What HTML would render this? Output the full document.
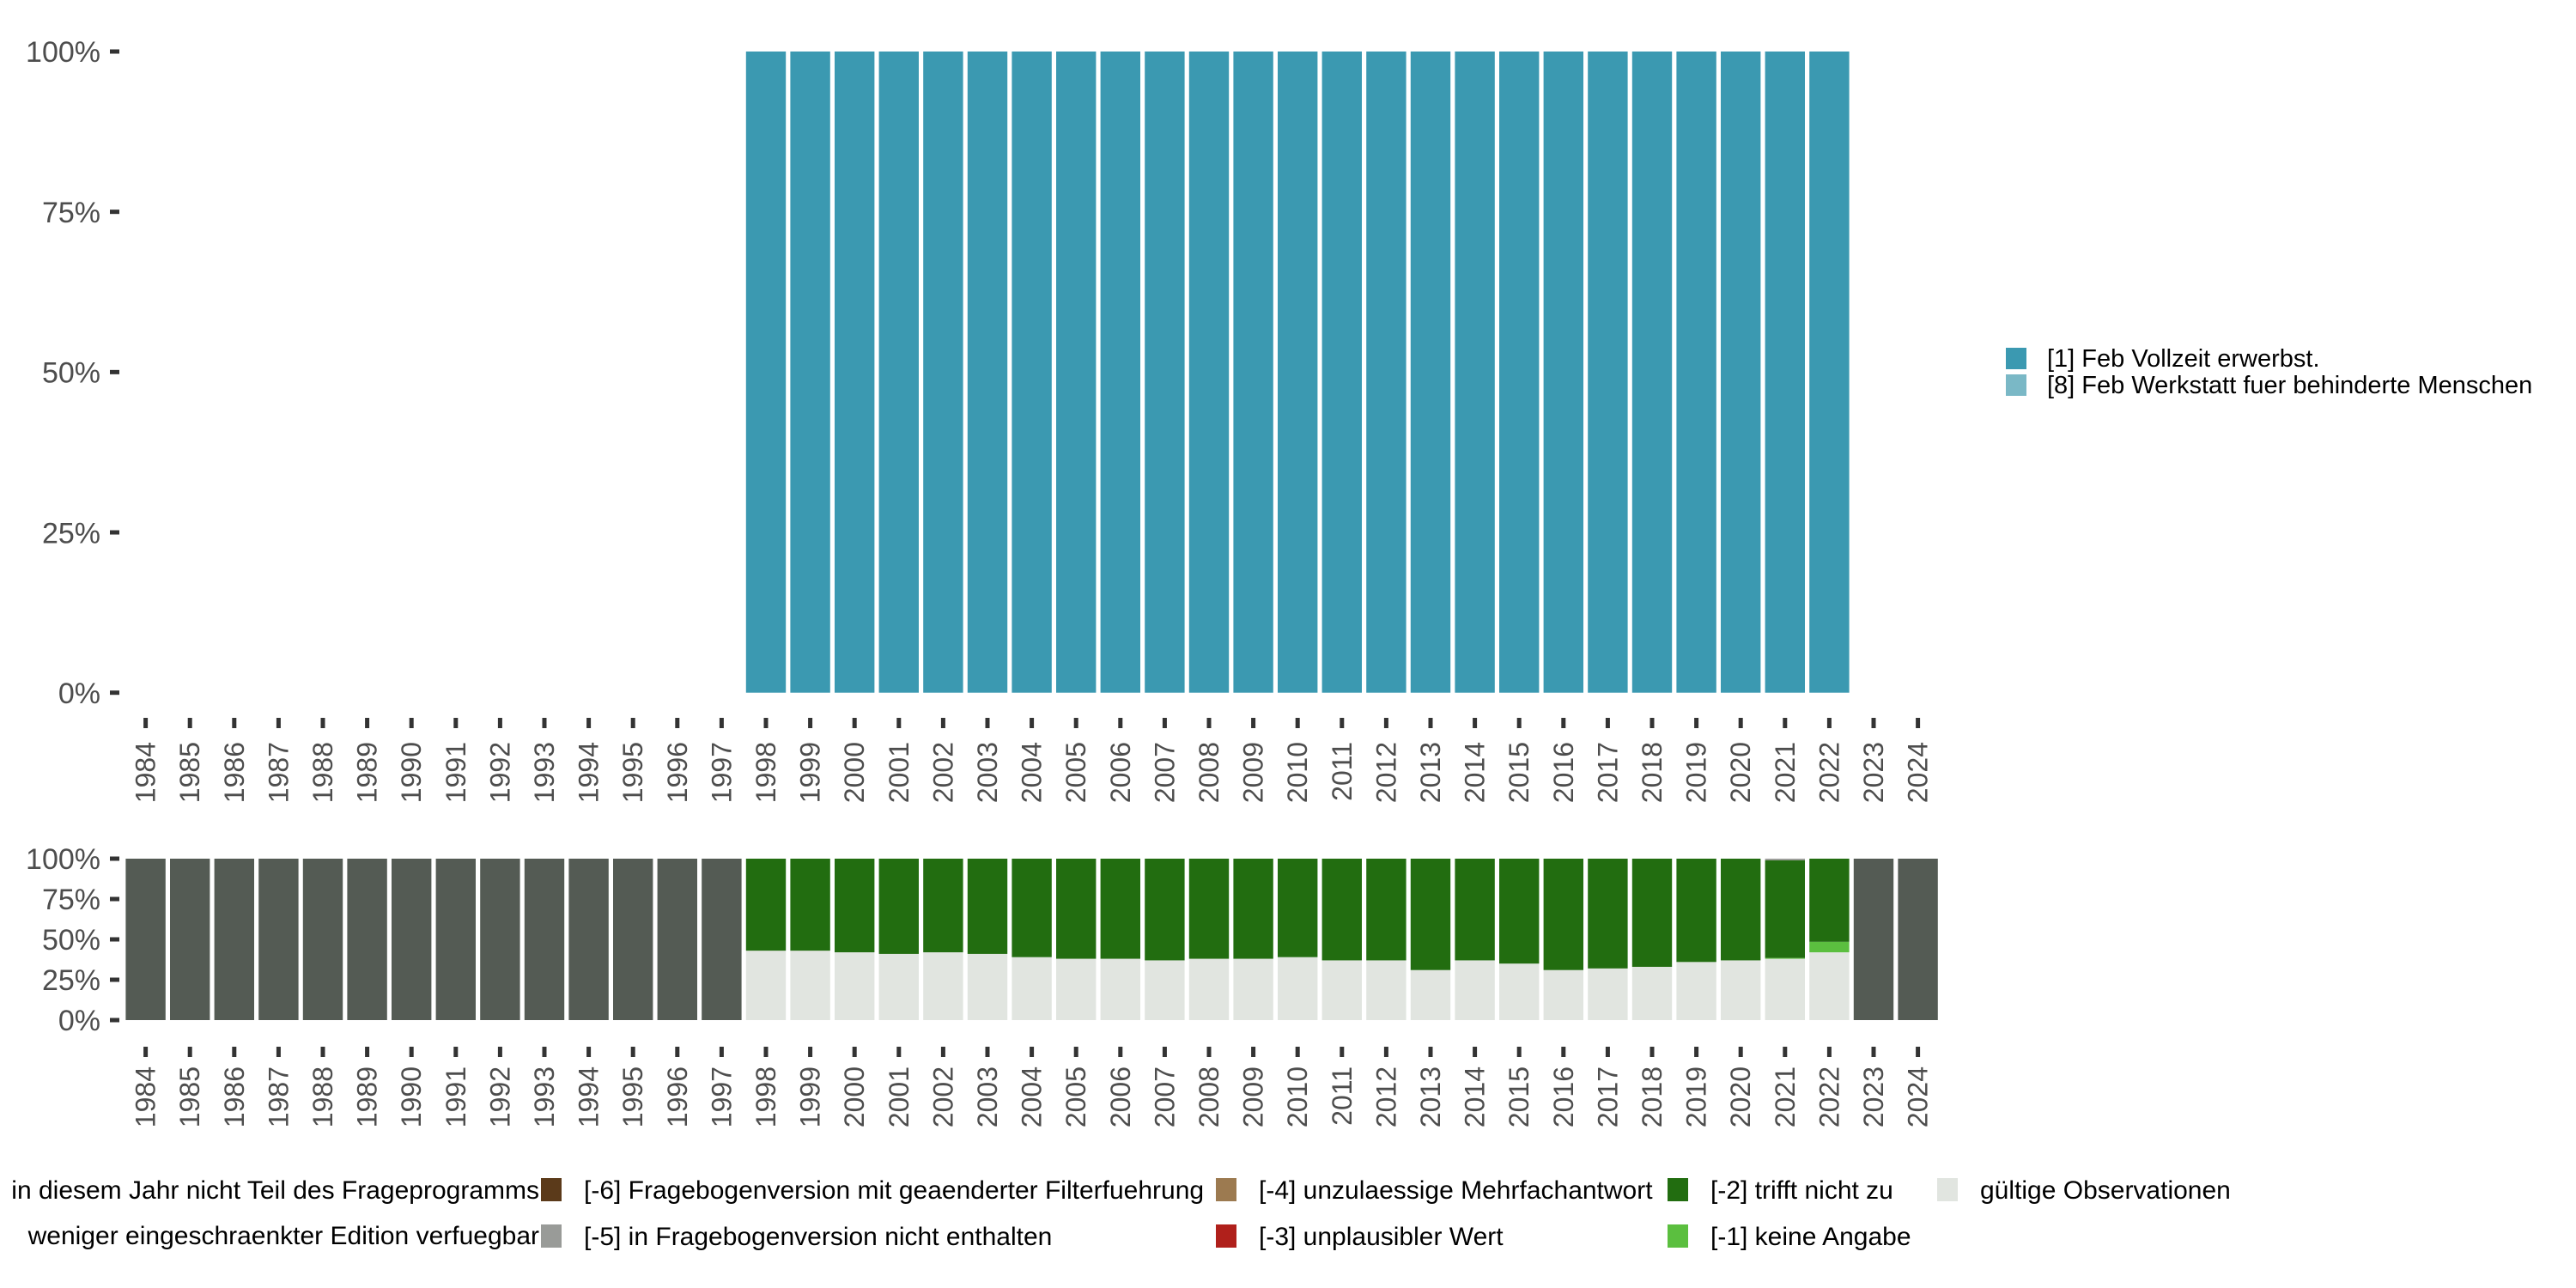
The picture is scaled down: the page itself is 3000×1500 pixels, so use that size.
<!DOCTYPE html>
<html><head><meta charset="utf-8"><style>
html,body{margin:0;padding:0;background:#fff;}
svg{display:block;font-family:"Liberation Sans",sans-serif;}
</style></head><body>
<svg id="chart" width="3000" height="1500" viewBox="0 0 3000 1500" xmlns="http://www.w3.org/2000/svg">
<g id="topPanel"></g>
<g id="botPanel"></g>
<g id="legR"></g>
<g id="legB"></g>
</svg>
<script>
const years = [1984,1985,1986,1987,1988,1989,1990,1991,1992,1993,1994,1995,1996,1997,1998,1999,2000,2001,2002,2003,2004,2005,2006,2007,2008,2009,2010,2011,2012,2013,2014,2015,2016,2017,2018,2019,2020,2021,2022,2023,2024];
const topYears = [1998,1999,2000,2001,2002,2003,2004,2005,2006,2007,2008,2009,2010,2011,2012,2013,2014,2015,2016,2017,2018,2019,2020,2021,2022];
const vollzeit = [100,100,100,100,100,100,100,100,100,100,100,100,100,100,100,100,100,100,100,100,100,100,100,100,100];
const werkstatt = [0,0,0,0,0,0,0,0,0,0,0,0,0,0,0,0,0,0,0,0,0,0,0,0,0];
const nichtTeil = [100,100,100,100,100,100,100,100,100,100,100,100,100,100,0,0,0,0,0,0,0,0,0,0,0,0,0,0,0,0,0,0,0,0,0,0,0,0,0,100,100];
const gueltig = [0,0,0,0,0,0,0,0,0,0,0,0,0,0,43,43,42,41,42,41,39,38,38,37,38,38,39,37,37,31,37,35,31,32,33,36,37,38,42,0,0];
const keineAngabe = [0,0,0,0,0,0,0,0,0,0,0,0,0,0,0,0,0,0,0,0,0,0,0,0,0,0,0,0,0,0,0,0,0,0,0,0,0,0.5,6.5,0,0];
const trifftNicht = [0,0,0,0,0,0,0,0,0,0,0,0,0,0,57,57,58,59,58,59,61,62,62,63,62,62,61,63,63,69,63,65,69,68,67,64,63,60.5,51.5,0,0];
const nichtEnthalten = [0,0,0,0,0,0,0,0,0,0,0,0,0,0,0,0,0,0,0,0,0,0,0,0,0,0,0,0,0,0,0,0,0,0,0,0,0,1,0,0,0];
const yTicks = [0,25,50,75,100];
const yTickLabels = ["0%","25%","50%","75%","100%"];

const NS="http://www.w3.org/2000/svg";
function mk(tag,attrs,parent,text){const e=document.createElementNS(NS,tag);for(const k in attrs)e.setAttribute(k,attrs[k]);if(text!==undefined)e.textContent=text;parent.appendChild(e);return e;}
const pitch=51.6, x0=169.6, bw=46.4;
function xS(y){return x0+(y-1984)*pitch;}
function yTop(v){return 806.7-(v/100)*(806.7-60);}
function yBot(v){return 1188-(v/100)*(1188-1000);}

function axes(g,yS,tickY,labY,fs){
  yTicks.forEach((t,i)=>{
    const tk=mk('rect',{x:128,y:yS(t)-2.5,width:11,height:5,fill:'#333'},g);
    
    
    const l=mk('text',{x:117,y:yS(t)+fs*0.36,'text-anchor':'end','font-size':fs,fill:'#4d4d4d'},g,yTickLabels[i]);
    
    
  });
  years.forEach(y=>{
    const cx=xS(y);
    const tk=mk('rect',{x:cx-2.5,y:tickY,width:5,height:12,fill:'#333'},g);
    
    
    const l=mk('text',{x:0,y:0,'text-anchor':'end','font-size':32,fill:'#4d4d4d',transform:`translate(${cx+11},${labY}) rotate(-90)`},g,String(y));
    
    
  });
}
const topG=document.getElementById('topPanel');
axes(topG,yTop,836,864,34);
topYears.forEach((y,i)=>{
  const x=xS(y)-bw/2;
  const a=mk('rect',{x:x,y:yTop(vollzeit[i]),width:bw,height:yTop(0)-yTop(vollzeit[i]),fill:'#3b99b1'},topG);
  
  
  if(werkstatt[i]>0){
    const b=mk('rect',{x:x,y:yTop(vollzeit[i]+werkstatt[i]),width:bw,height:yTop(0)-yTop(werkstatt[i]),fill:'#7ab8c6'},topG);
    
    
  }
});
const botG=document.getElementById('botPanel');
axes(botG,yBot,1219,1242,34);
const series=[[gueltig,'#e1e5e0','gueltig'],[keineAngabe,'#5bbf3f','keine-angabe'],[trifftNicht,'#226d10','trifft-nicht-zu'],[nichtEnthalten,'#999b98','nicht-enthalten'],[nichtTeil,'#545b54','nicht-teil']];
years.forEach((y,i)=>{
  let cum=0;const x=xS(y)-bw/2;
  series.forEach(s=>{
    const v=s[0][i];if(v<=0)return;
    const r=mk('rect',{x:x,y:yBot(cum+v),width:bw,height:yBot(cum)-yBot(cum+v),fill:s[1]},botG);
    
    
    cum+=v;
  });
});
const legR=document.getElementById('legR');
[['#3b99b1','[1] Feb Vollzeit erwerbst.',405],['#7ab8c6','[8] Feb Werkstatt fuer behinderte Menschen',436]].forEach(d=>{
  const r=mk('rect',{x:2336,y:d[2],width:24,height:25,fill:d[0]},legR);
  
  
  const t=mk('text',{x:2384,y:d[2]+22,'font-size':29,fill:'#000'},legR,d[1]);
  
  
});
const legB=document.getElementById('legB');
const leftTxt=[['in diesem Jahr nicht Teil des Frageprogramms',1396],['weniger eingeschraenkter Edition verfuegbar',1449]];
leftTxt.forEach(d=>{
  const t=mk('text',{x:628,y:d[1],'text-anchor':'end','font-size':30,fill:'#000'},legB,d[0]);
  
  
});
const items=[
 [630,1372,'#5b3a1a','[-6] Fragebogenversion mit geaenderter Filterfuehrung'],
 [630,1426,'#999b98','[-5] in Fragebogenversion nicht enthalten'],
 [1416,1372,'#9c7a50','[-4] unzulaessige Mehrfachantwort'],
 [1416,1426,'#b0201b','[-3] unplausibler Wert'],
 [1942,1372,'#226d10','[-2] trifft nicht zu'],
 [1942,1426,'#5bbf3f','[-1] keine Angabe'],
 [2256,1372,'#e1e5e0','gültige Observationen']];
items.forEach(d=>{
  const r=mk('rect',{x:d[0],y:d[1],width:24,height:27,fill:d[2]},legB);
  
  
  const t=mk('text',{x:d[0]+50,y:d[1]+24,'font-size':30,fill:'#000'},legB,d[3]);
  
  
});
</script>
</body></html>
